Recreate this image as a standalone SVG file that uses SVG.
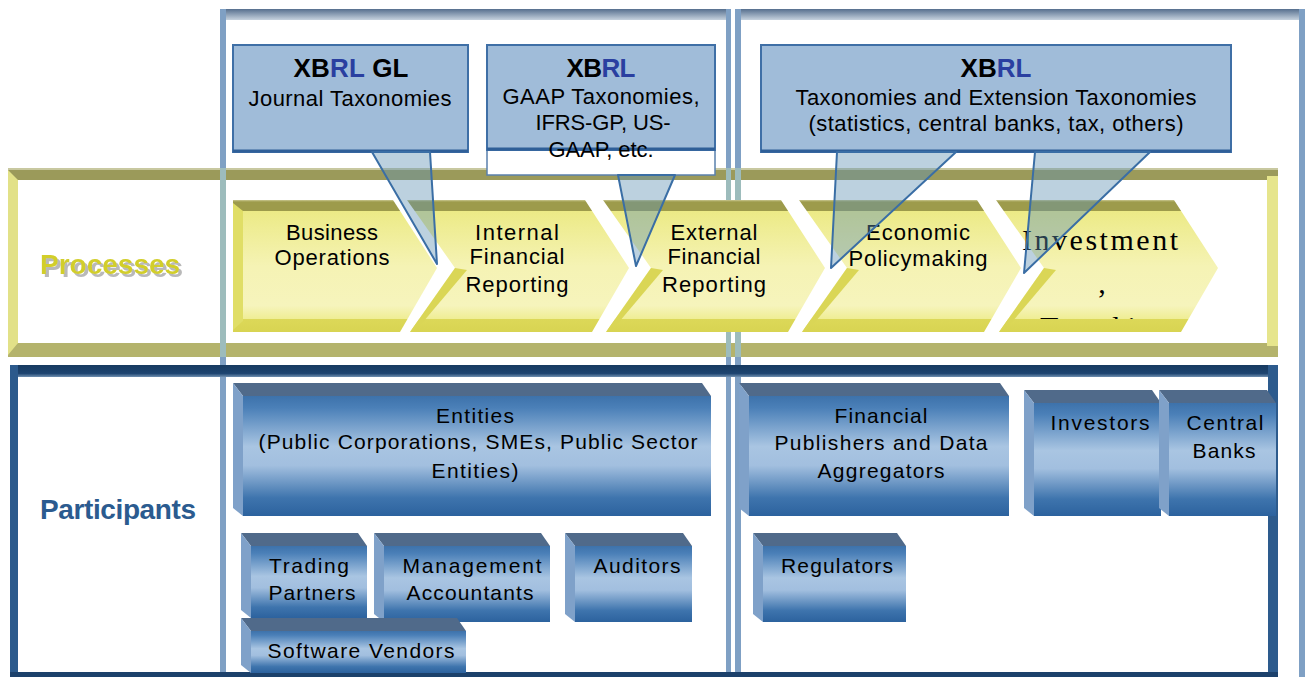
<svg xmlns="http://www.w3.org/2000/svg" width="1305" height="677" viewBox="0 0 1305 677">
<defs>
<linearGradient id="gColBar" x1="0" y1="0" x2="0" y2="1"><stop offset="0" stop-color="#566f8e"/><stop offset="1" stop-color="#c6d2de"/></linearGradient>
<linearGradient id="gChev" gradientUnits="userSpaceOnUse" x1="0" y1="200" x2="0" y2="332">
<stop offset="0" stop-color="#c9c78f"/><stop offset="0.015" stop-color="#9d9b4b"/><stop offset="0.08" stop-color="#9d9b4b"/><stop offset="0.085" stop-color="#ecea86"/><stop offset="0.5" stop-color="#f5f3b4"/><stop offset="0.8" stop-color="#f6f4bc"/><stop offset="0.9" stop-color="#efed94"/><stop offset="0.905" stop-color="#dcd858"/><stop offset="1" stop-color="#d8d452"/>
</linearGradient>
<linearGradient id="gBox" x1="0" y1="0" x2="0" y2="1">
<stop offset="0" stop-color="#3d72ab"/><stop offset="0.1" stop-color="#4b80b8"/><stop offset="0.42" stop-color="#a9c5e2"/><stop offset="0.58" stop-color="#a2bfdf"/><stop offset="0.85" stop-color="#3e74ad"/><stop offset="1" stop-color="#2c629e"/>
</linearGradient>
<linearGradient id="gNavy" x1="0" y1="0" x2="0" y2="1"><stop offset="0" stop-color="#173a60"/><stop offset="0.7" stop-color="#1d4470"/><stop offset="1" stop-color="#6f8fb0"/></linearGradient>
<clipPath id="clipTrad"><rect x="1000" y="300" width="200" height="19"/></clipPath>
<filter id="sh" x="-5%" y="-10%" width="115%" height="140%"><feDropShadow dx="3" dy="3" stdDeviation="0" flood-color="#b9b9b9" flood-opacity="1"/></filter>
<style>
.t{font-family:"Liberation Sans",Arial,sans-serif;font-size:22px;fill:#000;text-anchor:middle}
.s{font-size:21px}
.b{font-weight:bold;font-size:26px}
.rl{fill:#2a3fa0}
.ser{font-family:"Liberation Serif","Times New Roman",serif;font-size:30px}
.callout{fill:#a0bcd9;stroke:#3f6fa6;stroke-width:2}
.cbot{stroke:#2f5f98;stroke-width:3}
.ptr{fill:rgb(95,145,178);fill-opacity:.42;stroke:#3a6ea5;stroke-width:2;stroke-linejoin:round}
.chev{fill:url(#gChev)}
.nb{fill:#dad656}
.topbev{fill:#506a8a}
.leftbev{fill:#7fa1c9}
.front{fill:url(#gBox)}
.col{fill:#7fa0c4}
.colp{fill:#9dbcbc}
.lbl{font-family:"Liberation Sans",Arial,sans-serif;font-weight:bold;font-size:28px}
</style>
</defs>
<rect width="1305" height="677" fill="#fff"/>

<g id="columns">
<rect x="220" y="9" width="511" height="11" fill="url(#gColBar)"/>
<rect x="735" y="9" width="570" height="11" fill="url(#gColBar)"/>
<rect class="col" x="220" y="9" width="6" height="668"/>
<rect class="col" x="726" y="9" width="5" height="668"/>
<rect class="col" x="735" y="9" width="6" height="668"/>
<rect class="col" x="1299" y="9" width="6" height="668"/>
</g>

<g id="processes-band">
<rect x="8" y="168" width="1270" height="12" fill="#9b9a5a"/>
<rect x="8" y="168" width="1270" height="2" fill="#c8c8a0"/>
<rect x="8" y="343" width="1270" height="14" fill="#b4b36c"/>
<polygon points="8,170 18,180 18,343 8,355" fill="#e2e188"/>
<rect x="1267" y="176" width="11" height="170" fill="#e6e58c"/>
<rect class="colp" x="220" y="168" width="6" height="189"/>
<rect class="colp" x="726" y="168" width="5" height="189"/>
<rect class="colp" x="735" y="168" width="6" height="189"/>
</g>
<g id="label-processes">
<text class="lbl" x="40" y="274" fill="#d2ce2c" filter="url(#sh)">Processes</text>
</g>

<g id="participants-band">
<rect x="10" y="365" width="1268" height="12" fill="url(#gNavy)"/>
<rect x="10" y="365" width="8" height="312" fill="#2c5a8c"/>
<rect x="1268" y="365" width="10" height="312" fill="#2d5b8d"/>
<rect x="10" y="672" width="1268" height="5" fill="#1c416b"/>
</g>
<g id="label-participants">
<text class="lbl" x="40" y="519" fill="#2b5b8f" textLength="156">Participants</text>
</g>

<g id="chev-business">
<polygon class="chev" points="233,200 393,200 437,268 400,332 233,332"/>
<polygon points="233,203 243,211 243,321 233,330" fill="#e0de66"/>
<text class="t" x="332" y="240" textLength="92">Business</text>
<text class="t" x="332" y="265" textLength="115">Operations</text>
</g>
<g id="chev-internal">
<polygon class="chev" points="407,200 585,200 629,268 592,332 410,332 455,268"/>
<polygon class="nb" points="455,268 467,270 423,322 410,332"/>
<text class="t" x="517" y="240" textLength="84">Internal</text>
<text class="t" x="517" y="264" textLength="95">Financial</text>
<text class="t" x="517" y="292" textLength="103">Reporting</text>
</g>
<g id="chev-external">
<polygon class="chev" points="603,200 781,200 825,268 788,332 606,332 651,268"/>
<polygon class="nb" points="651,268 663,270 619,322 606,332"/>
<text class="t" x="714" y="240" textLength="87">External</text>
<text class="t" x="714" y="264" textLength="93">Financial</text>
<text class="t" x="714" y="292" textLength="104">Reporting</text>
</g>
<g id="chev-economic">
<polygon class="chev" points="799,200 977,200 1021,268 984,332 802,332 847,268"/>
<polygon class="nb" points="847,268 859,270 815,322 802,332"/>
<text class="t" x="918" y="240" textLength="104">Economic</text>
<text class="t" x="918" y="266" textLength="139">Policymaking</text>
</g>
<g id="chev-investment">
<polygon class="chev" points="996,200 1174,200 1218,268 1181,332 999,332 1044,268"/>
<polygon class="nb" points="1044,268 1056,270 1012,322 999,332"/>
<text class="t ser" x="1100" y="250" textLength="156">Investment</text>
<text class="t ser" x="1102" y="293">,</text>
<text class="t ser" x="1040" y="337" style="text-anchor:start;letter-spacing:8px" clip-path="url(#clipTrad)">Trading</text>
</g>

<g id="callout-gl">
<rect class="callout" x="233" y="45" width="235" height="107"/>
<line class="cbot" x1="233" y1="151" x2="468" y2="151"/>
<text class="t b" x="351" y="77" textLength="115">XB<tspan class="rl">RL</tspan> GL</text>
<text class="t" x="350" y="106" textLength="203">Journal Taxonomies</text>
</g>
<g id="callout-gaap">
<rect x="487" y="45" width="228" height="130" fill="#fff" stroke="#5a80ad" stroke-width="1.5"/>
<rect class="callout" x="487" y="45" width="228" height="105"/>
<line class="cbot" x1="487" y1="149" x2="715" y2="149"/>
<text class="t b" x="601" y="77" textLength="69">XB<tspan class="rl">RL</tspan></text>
<text class="t" x="601" y="104" textLength="197">GAAP Taxonomies,</text>
<text class="t" x="603" y="130" textLength="135">IFRS-GP, US-</text>
<text class="t" x="601" y="157" textLength="105">GAAP, etc.</text>
</g>
<g id="callout-ext">
<rect class="callout" x="761" y="45" width="470" height="107"/>
<line class="cbot" x1="761" y1="151" x2="1231" y2="151"/>
<text class="t b" x="996" y="77" textLength="71">XB<tspan class="rl">RL</tspan></text>
<text class="t" x="996" y="105" textLength="401">Taxonomies and Extension Taxonomies</text>
<text class="t" x="996" y="131" textLength="375">(statistics, central banks, tax, others)</text>
</g>

<g id="participant-entities">
<polygon class="topbev" points="233,383 702,383 711,396 243,396"/>
<polygon class="leftbev" points="233,383 243,396 243,516 233,508"/>
<rect class="front" x="243" y="396" width="468" height="120"/>
<text class="t s" x="475" y="423" textLength="78">Entities</text>
<text class="t s" x="478" y="449" textLength="439">(Public Corporations, SMEs, Public Sector</text>
<text class="t s" x="475" y="478" textLength="87">Entities)</text>
</g>
<g id="participant-trading">
<polygon class="topbev" points="241,533 358,533 367,546 251,546"/>
<polygon class="leftbev" points="241,533 251,546 251,618 241,610"/>
<rect class="front" x="251" y="546" width="116" height="72"/>
<text class="t s" x="309" y="573" textLength="80">Trading</text>
<text class="t s" x="312" y="600" textLength="87">Partners</text>
</g>
<g id="participant-management">
<polygon class="topbev" points="374,533 541,533 550,546 384,546"/>
<polygon class="leftbev" points="374,533 384,546 384,622 374,614"/>
<rect class="front" x="384" y="546" width="166" height="76"/>
<text class="t s" x="472" y="573" textLength="139">Management</text>
<text class="t s" x="470" y="600" textLength="127">Accountants</text>
</g>
<g id="participant-auditors">
<polygon class="topbev" points="565,533 683,533 692,546 575,546"/>
<polygon class="leftbev" points="565,533 575,546 575,622 565,614"/>
<rect class="front" x="575" y="546" width="117" height="76"/>
<text class="t s" x="637" y="573" textLength="87">Auditors</text>
</g>
<g id="participant-software">
<polygon class="topbev" points="241,618 457,618 466,631 251,631"/>
<polygon class="leftbev" points="241,618 251,631 251,673 241,665"/>
<rect class="front" x="251" y="631" width="215" height="42"/>
<text class="t s" x="361" y="658" textLength="187">Software Vendors</text>
</g>
<g id="participant-publishers">
<polygon class="topbev" points="739,383 1000,383 1009,396 749,396"/>
<polygon class="leftbev" points="739,383 749,396 749,516 739,508"/>
<rect class="front" x="749" y="396" width="260" height="120"/>
<text class="t s" x="881" y="423" textLength="93">Financial</text>
<text class="t s" x="881" y="450" textLength="213">Publishers and Data</text>
<text class="t s" x="881" y="478" textLength="127">Aggregators</text>
</g>
<g id="participant-investors">
<polygon class="topbev" points="1024,390 1152,390 1161,403 1034,403"/>
<polygon class="leftbev" points="1024,390 1034,403 1034,516 1024,508"/>
<rect class="front" x="1034" y="403" width="127" height="113"/>
<text class="t s" x="1100" y="430" textLength="99">Investors</text>
</g>
<g id="participant-centralbanks">
<polygon class="topbev" points="1159,390 1267,390 1276,403 1169,403"/>
<polygon class="leftbev" points="1159,390 1169,403 1169,516 1159,508"/>
<rect class="front" x="1169" y="403" width="107" height="113"/>
<text class="t s" x="1225" y="430" textLength="77">Central</text>
<text class="t s" x="1224" y="458" textLength="63">Banks</text>
</g>
<g id="participant-regulators">
<polygon class="topbev" points="753,533 897,533 906,546 763,546"/>
<polygon class="leftbev" points="753,533 763,546 763,622 753,614"/>
<rect class="front" x="763" y="546" width="143" height="76"/>
<text class="t s" x="837" y="573" textLength="112">Regulators</text>
</g>

<g id="connectors">
<polygon class="ptr" points="372,152 430,152 437,264"/>
<polygon class="ptr" points="618,175 675,175 636,266"/>
<polygon class="ptr" points="837,152 956,152 831,268"/>
<polygon class="ptr" points="1035,152 1150,152 1024,273"/>
</g>
</svg>
